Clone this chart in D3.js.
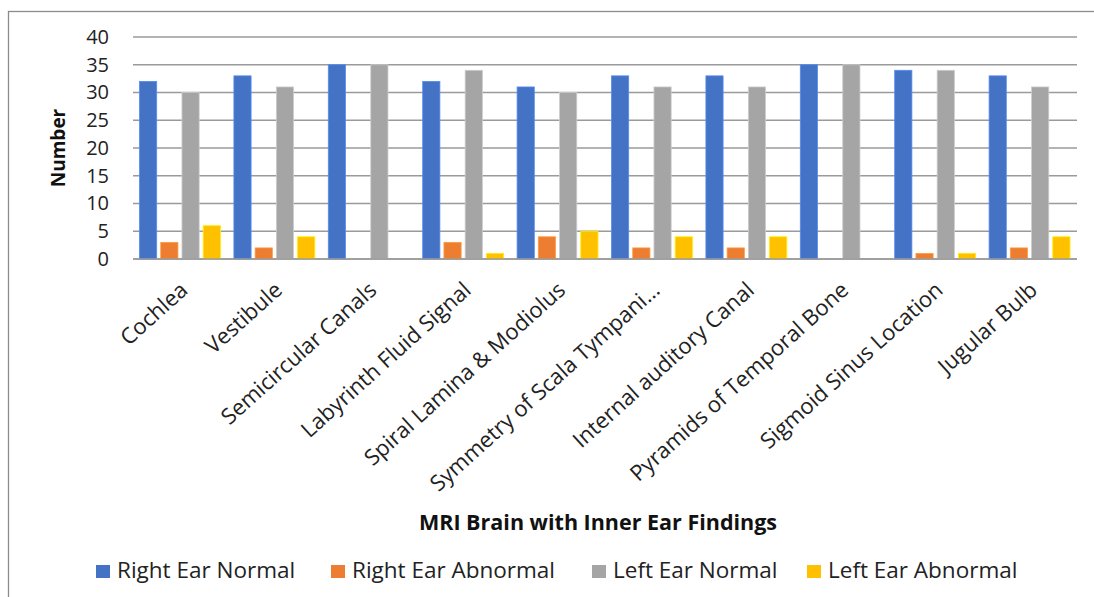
<!DOCTYPE html>
<html>
<head>
<meta charset="utf-8">
<script src="https://cdn.jsdelivr.net/npm/d3@7"></script>
<style>
    body { margin: 0; background: #fff; }
    svg { display: block; font-family: "Open Sans", sans-serif; }
</style>
</head>
<body>
<svg id="chart"></svg>
<script>
const width = 1094, height = 597
const margin = {
    top: 37,
    bottom: 338,
    left: 133,
    right: 17,
}

const categories = [
    "Cochlea", "Vestibule", "Semicircular Canals", "Labyrinth Fluid Signal",
    "Spiral Lamina & Modiolus", "Symmetry of Scala Tympani…", "Internal auditory Canal",
    "Pyramids of Temporal Bone", "Sigmoid Sinus Location", "Jugular Bulb",
]
const seriesNames = ["Right Ear Normal", "Right Ear Abnormal", "Left Ear Normal", "Left Ear Abnormal"]
const rightNormal = [32, 33, 35, 32, 31, 33, 33, 35, 34, 33]
const rightAbnormal = [3, 2, 0, 3, 4, 2, 2, 0, 1, 2]
const leftNormal = [30, 31, 35, 34, 30, 31, 31, 35, 34, 31]
const leftAbnormal = [6, 4, 0, 1, 5, 4, 4, 0, 1, 4]
const yTicks = [0, 5, 10, 15, 20, 25, 30, 35, 40]
const colors = ["#4472C4", "#ED7D31", "#A5A5A5", "#FFC000"]

const seriesValues = [rightNormal, rightAbnormal, leftNormal, leftAbnormal]
const barData = []
categories.forEach((cat, i) => {
    seriesNames.forEach((s, j) => {
        barData.push({cat, series: s, value: seriesValues[j][i]})
    })
})

const svg = d3.select("svg#chart")
    .attr("viewBox", [0, 0, width, height])
    .attr("width", width)
    .attr("height", height)

// outer frame (only left and top show in the picture)
svg.append("rect")
    .attr("x", 8.5).attr("y", 11.5)
    .attr("width", width + 20).attr("height", height + 20)
    .attr("fill", "none")
    .attr("stroke", "#8c8c8c")
    .attr("stroke-width", 1.3)

const xScale = d3.scaleBand()
    .domain(categories)
    .range([margin.left, width - margin.right])

const innerScale = d3.scaleBand()
    .domain(seriesNames)
    .range([6.5, xScale.bandwidth() - 7])
    .paddingInner(0.19)

const yScale = d3.scaleLinear()
    .domain([0, 40])
    .range([height - margin.bottom, margin.top])

const colorScale = d3.scaleOrdinal(seriesNames, colors)

// H grid lines
svg.append("g").classed("h-grid", true)
    .selectAll("line")
    .data(yTicks)
    .enter()
    .append("line")
    .attr("x1", margin.left)
    .attr("x2", width - margin.right)
    .attr("y1", d => yScale(d))
    .attr("y2", d => yScale(d))
    .attr("stroke", "#9a9a9a")
    .attr("stroke-width", 1.6)

// Y axis labels
svg.append("g").classed("y-axis", true)
    .attr("transform", `translate(${margin.left - 24}, 0)`)
    .call(d3.axisLeft(yScale).tickValues(yTicks).tickSize(0).tickPadding(0))
    .call(g => g.select(".domain").remove())
    .call(g => g.selectAll("text")
        .attr("font-family", "Open Sans, sans-serif")
        .attr("font-size", 20)
        .attr("fill", "#222"))

svg.append("text")
    .attr("transform", `translate(65, ${yScale(20)}) rotate(-90)`)
    .attr("text-anchor", "middle")
    .attr("font-size", 19)
    .attr("font-weight", "bold")
    .attr("fill", "#111")
    .text("Number")

// bars
svg.append("g").classed("bars", true)
    .selectAll("rect")
    .data(barData.filter(d => d.value > 0))
    .enter()
    .append("rect")
    .attr("x", d => xScale(d.cat) + innerScale(d.series))
    .attr("width", innerScale.bandwidth())
    .attr("y", d => yScale(d.value))
    .attr("height", d => yScale(0) - yScale(d.value))
    .attr("fill", d => colorScale(d.series))
    .attr("stroke", d => d3.color(colorScale(d.series)).brighter(0.6))
    .attr("stroke-width", 0.8)

// baseline
svg.append("line")
    .attr("x1", margin.left).attr("x2", width - margin.right)
    .attr("y1", yScale(0)).attr("y2", yScale(0))
    .attr("stroke", "#9a9a9a")
    .attr("stroke-width", 1.6)

// X axis labels, rotated
svg.append("g").classed("x-axis", true)
    .selectAll("text")
    .data(categories)
    .enter()
    .append("text")
    .attr("transform", d => `translate(${xScale(d) + xScale.bandwidth() / 2 + 9}, 292) rotate(-42)`)
    .attr("text-anchor", "end")
    .attr("font-size", 22)
    .attr("fill", "#222")
    .text(d => d)

svg.append("text")
    .attr("x", 598)
    .attr("y", 530)
    .attr("text-anchor", "middle")
    .attr("font-size", 21.5)
    .attr("font-weight", "bold")
    .attr("fill", "#111")
    .text("MRI Brain with Inner Ear Findings")

// legend
const legendX = [96, 331, 592, 807]
const legend = svg.append("g").classed("legend", true)
    .selectAll("g")
    .data(seriesNames)
    .enter()
    .append("g")
    .attr("transform", (d, i) => `translate(${legendX[i]}, 565)`)

legend.append("rect")
    .attr("width", 14).attr("height", 13)
    .attr("fill", d => colorScale(d))

legend.append("text")
    .attr("x", 21)
    .attr("y", 13)
    .attr("font-size", 22.5)
    .attr("fill", "#222")
    .text(d => d)
</script>
</body>
</html>
